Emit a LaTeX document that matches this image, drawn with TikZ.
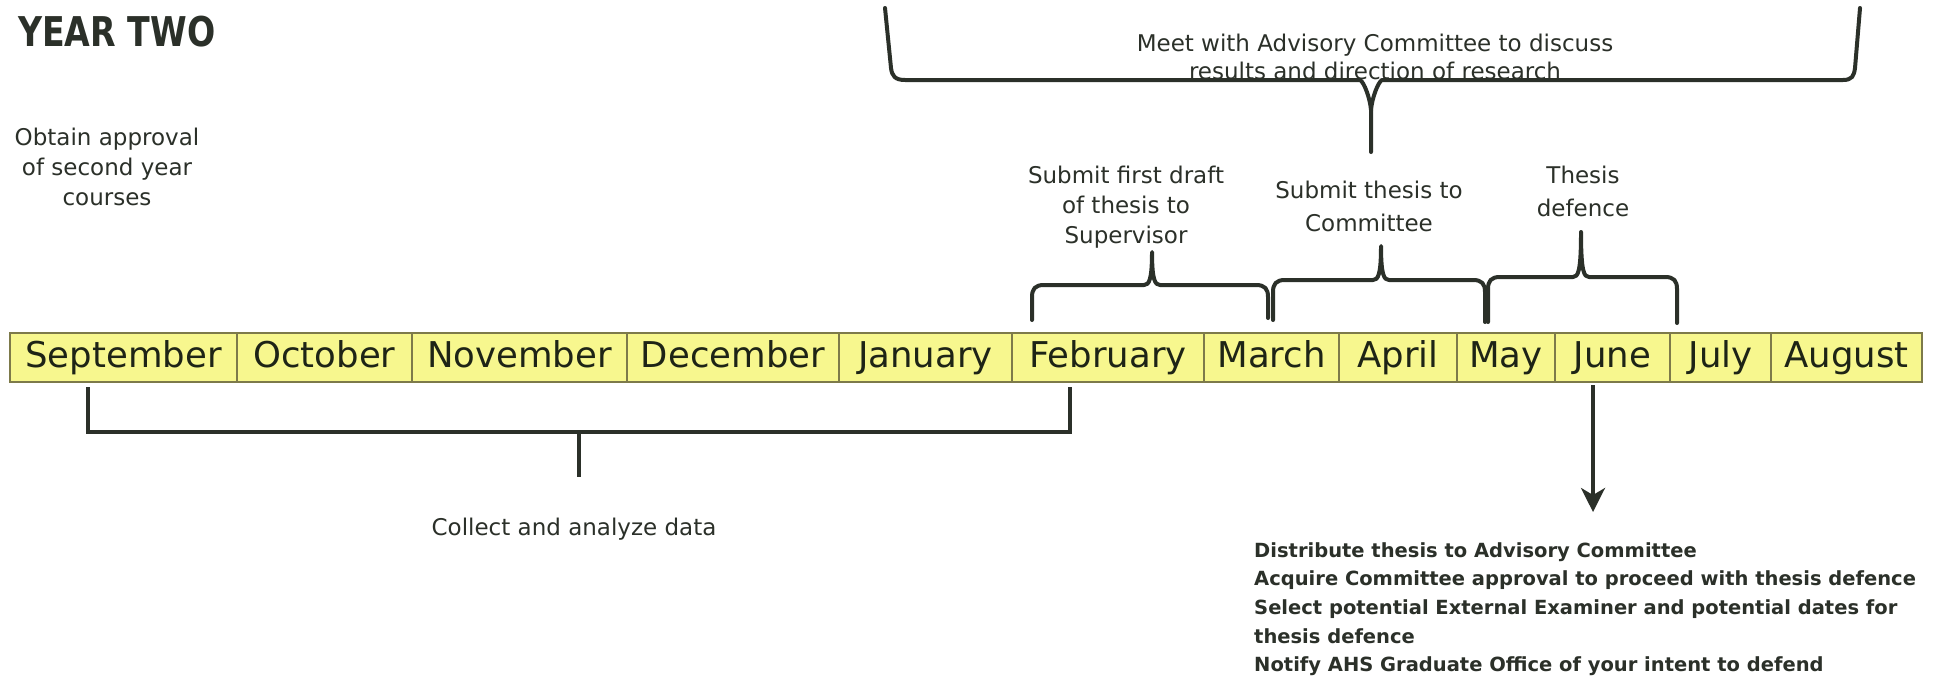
\documentclass[tikz,border=0pt]{standalone}
\usepackage{fontspec}
\usepackage{graphicx}
\setmainfont{DejaVu Sans}
\usetikzlibrary{arrows.meta}
\definecolor{ink}{HTML}{2B3029}
\definecolor{monthfill}{HTML}{F7F78E}
\definecolor{monthedge}{HTML}{7D7A4A}
\definecolor{monthtext}{HTML}{1E2416}
\tikzset{
  month/.style={draw=monthedge, line width=1.4pt, fill=monthfill, minimum height=49pt,
    inner sep=0pt, outer sep=0pt, text height=34pt, text depth=15pt,
    font=\fontsize{35.5}{40}\selectfont, text=monthtext, anchor=west},
  txt/.style={text=ink, inner sep=0pt, align=center, anchor=north},
  bracel/.style={draw=ink, line width=4pt, line join=round, line cap=round},
  conn/.style={draw=ink, line width=3.5pt},
}
\begin{document}
\begin{tikzpicture}[x=1pt, y=-1pt]
\useasboundingbox[fill=white] (0,0) rectangle (1942,677);

% title
\node[anchor=base west, inner sep=0pt, text=ink] (title) at (18,47)
  {\scalebox{0.81}[1]{\fontsize{41}{41}\selectfont\bfseries YEAR TWO}};

% months
\node[month, minimum width=227pt] (sep) at (10,357.5) {September};
\node[month, minimum width=175pt] (oct) at (237,357.5) {October};
\node[month, minimum width=215pt] (nov) at (412,357.5) {November};
\node[month, minimum width=212pt] (dec) at (627,357.5) {December};
\node[month, minimum width=173pt] (jan) at (839,357.5) {January};
\node[month, minimum width=192pt] (feb) at (1012,357.5) {February};
\node[month, minimum width=135pt] (mar) at (1204,357.5) {March};
\node[month, minimum width=118pt] (apr) at (1339,357.5) {April};
\node[month, minimum width=98pt]  (may) at (1457,357.5) {May};
\node[month, minimum width=115pt] (jun) at (1555,357.5) {June};
\node[month, minimum width=101pt] (jul) at (1670,357.5) {July};
\node[month, minimum width=151pt] (aug) at (1771,357.5) {August};

% texts
\node[txt, font=\fontsize{23}{30}\selectfont] (obtain) at (107,127.5)
  {Obtain approval\\of second year\\courses};
\node[txt, font=\fontsize{23}{28}\selectfont] (meet) at (1375,33.5)
  {Meet with Advisory Committee to discuss\\results and direction of research};
\node[txt, font=\fontsize{23}{30}\selectfont] (draft) at (1126,165.5)
  {Submit first draft\\of thesis to\\Supervisor};
\node[txt, font=\fontsize{23}{33}\selectfont] (submit) at (1369,180.5)
  {Submit thesis to\\Committee};
\node[txt, font=\fontsize{23}{33}\selectfont] (defence) at (1583,165.5)
  {Thesis\\defence};
\node[txt, anchor=base, font=\fontsize{23}{30}\selectfont] (collect) at (574,535)
  {Collect and analyze data};
\node[txt, anchor=north west, align=left, font=\fontsize{19.5}{28.7}\selectfont\bfseries] (todo) at (1254,542)
  {Distribute thesis to Advisory Committee\\
   Acquire Committee approval to proceed with thesis defence\\
   Select potential External Examiner and potential dates for\\
   thesis defence\\
   Notify AHS Graduate Office of your intent to defend};

% big brace (advisory committee)
\draw[bracel] (885,8) -- (891,68) .. controls (892,76) and (895,80) .. (905,80)
  -- (1360,80) .. controls (1364,82) and (1370,98) .. (1371,110) -- (1371,152);
\draw[bracel] (1371,110) .. controls (1372,98) and (1378,82) .. (1382,80)
  -- (1843,80) .. controls (1852,80) and (1854,76) .. (1855,68) -- (1860,8);

% small brace: first draft (Feb-Mar)
\draw[bracel] (1032,320) -- (1032,297) .. controls (1032,289) and (1035,285) .. (1044,285)
  -- (1144,285) .. controls (1149,285) and (1152,280) .. (1152,252)
  .. controls (1152,280) and (1155,285) .. (1160,285)
  -- (1256,285) .. controls (1265,285) and (1268,289) .. (1268,297) -- (1268,318);
% small brace: submit to committee (Mar-May)
\draw[bracel] (1273,320) -- (1273,292) .. controls (1273,284) and (1276,280) .. (1285,280)
  -- (1373,280) .. controls (1378,280) and (1381,275) .. (1381,246)
  .. controls (1381,275) and (1384,280) .. (1389,280)
  -- (1473,280) .. controls (1482,280) and (1485,284) .. (1485,292) -- (1485,322);
% small brace: thesis defence (May-Jul)
\draw[bracel] (1488,322) -- (1488,289) .. controls (1488,281) and (1491,277) .. (1500,277)
  -- (1573,277) .. controls (1578,277) and (1581,272) .. (1581,232)
  .. controls (1581,272) and (1584,277) .. (1589,277)
  -- (1665,277) .. controls (1674,277) and (1677,281) .. (1677,289) -- (1677,323);

% collect data brace (Sep-Feb)
\coordinate (cL) at (88,387);
\coordinate (cR) at (1070,387);
\coordinate (cMid) at (579,432);
\coordinate (cTip) at (579,477);
\draw[bracel, line cap=butt, line join=miter] (cL) -- (88,432) -- (1070,432) -- (cR);
\draw[bracel, line cap=butt] (cMid) -- (cTip);

% arrow from June to task list
\coordinate (arrtip) at (1593,512);
\draw[conn, -{Stealth[length=24pt,width=24pt,inset=7pt]}] ([xshift=-19.5pt,yshift=-3pt]jun.south) -- (arrtip);
\end{tikzpicture}
\end{document}
